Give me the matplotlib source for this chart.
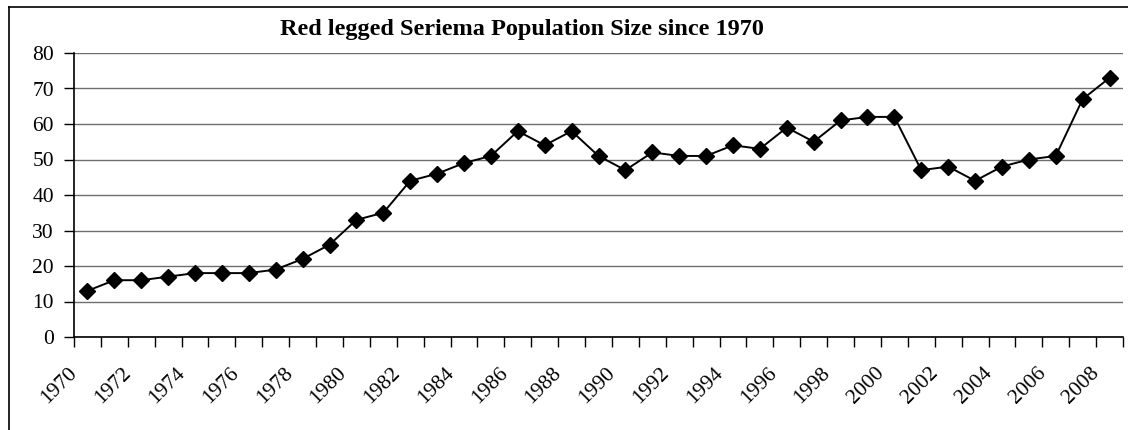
import numpy as np
import matplotlib
matplotlib.use("Agg")
import matplotlib.pyplot as plt
import matplotlib.transforms as mtransforms
from matplotlib.ticker import FixedLocator, NullFormatter

years = list(range(1970, 2009))
population = [13, 16, 16, 17, 18, 18, 18, 19, 22, 26,
              33, 35, 44, 46, 49, 51, 58, 54, 58, 51,
              47, 52, 51, 51, 54, 53, 59, 55, 61, 62,
              62, 47, 48, 44, 48, 50, 51, 67, 73]
y_ticks = [0, 10, 20, 30, 40, 50, 60, 70, 80]
title = "Red legged Seriema Population Size since 1970"

plt.rcParams['font.family'] = ['Liberation Serif', 'DejaVu Serif']

W, H = 1128, 430
fig = plt.figure(figsize=(W / 100, H / 100), dpi=100)
fig.patch.set_facecolor("white")

# chart area border (left and top edges visible)
fig.add_artist(plt.Line2D([9 / W, 9 / W], [0, 1 - 7 / H], color="black", lw=1.2))
fig.add_artist(plt.Line2D([9 / W, 1], [1 - 7 / H, 1 - 7 / H], color="black", lw=1.2))

ax = fig.add_axes([74 / W, (H - 337) / H, (1123 - 74) / W, (337 - 53) / H])

x = np.arange(len(years))
ax.plot(x, population, color="black", lw=1.4, marker="D", markersize=8.5,
        markerfacecolor="black", markeredgecolor="black")

ax.set_xlim(-0.5, len(years) - 0.5)
ax.set_ylim(0, 80)
ax.set_yticks(y_ticks)
ax.yaxis.grid(True, color="#6e6e6e", lw=1)
ax.set_axisbelow(True)

# category boundaries as major ticks, labels at every second category centre
ax.xaxis.set_major_locator(FixedLocator(np.arange(-0.5, len(years), 1.0)))
ax.xaxis.set_major_formatter(NullFormatter())
lab_idx = x[::2]
ax.xaxis.set_minor_locator(FixedLocator(lab_idx))
ax.set_xticklabels([str(years[i]) for i in lab_idx], minor=True,
                   rotation=45, ha="right", va="top", fontsize=15.5)
ax.tick_params(axis="x", which="minor", length=0, pad=19)
ax.tick_params(axis="x", which="major", length=7, width=1, direction="out")
ax.tick_params(axis="y", length=7, width=1, labelsize=15.5, pad=7.5)
shift = mtransforms.ScaledTranslation(-6 / 100, 0, fig.dpi_scale_trans)
for lbl in ax.xaxis.get_minorticklabels():
    lbl.set_transform(lbl.get_transform() + shift)

for s in ["top", "right"]:
    ax.spines[s].set_visible(False)
for s in ["left", "bottom"]:
    ax.spines[s].set_color("black")
    ax.spines[s].set_linewidth(1.2)

fig.text(522 / W, 1 - 30 / H, title, ha="center", va="center",
         fontsize=17.5, fontweight="bold")

fig.savefig("out.png", dpi=100, facecolor="white")
